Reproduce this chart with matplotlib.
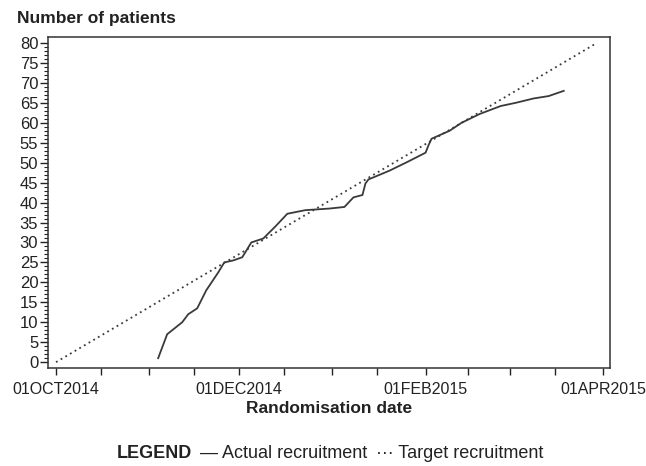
import datetime as dt
import matplotlib
matplotlib.use("Agg")
import matplotlib.pyplot as plt
import matplotlib.dates as mdates
from matplotlib.offsetbox import TextArea, HPacker, AnchoredOffsetbox

plt.rcParams['font.family'] = ['Liberation Sans', 'DejaVu Sans']

# actual recruitment
actual_dates = ["2014-11-04", "2014-11-05", "2014-11-07", "2014-11-12", "2014-11-14",
                "2014-11-17", "2014-11-20", "2014-11-24", "2014-11-26", "2014-11-29",
                "2014-12-02", "2014-12-05", "2014-12-09", "2014-12-13", "2014-12-17",
                "2014-12-23", "2014-12-31", "2015-01-05", "2015-01-08", "2015-01-11",
                "2015-01-12", "2015-01-13", "2015-01-20", "2015-01-26", "2015-02-01",
                "2015-02-02", "2015-02-03", "2015-02-09", "2015-02-13", "2015-02-19",
                "2015-02-26", "2015-03-03", "2015-03-09", "2015-03-14", "2015-03-19"]
actual_patients = [1, 3, 7, 10, 12,
                   13.5, 18, 22.5, 25, 25.5,
                   26.3, 30, 31, 34, 37.2,
                   38.1, 38.5, 38.9, 41.3, 41.9,
                   44.8, 45.8, 48, 50.2, 52.5,
                   54.4, 56, 58, 60, 62.2,
                   64.2, 65, 66.1, 66.7, 68]

# target recruitment
target_dates = ["2014-10-01", "2015-03-30"]
target_patients = [0, 80]

tick_dates = ["2014-10-01", "2014-10-16", "2014-11-01", "2014-11-16", "2014-12-01",
              "2014-12-16", "2015-01-01", "2015-01-16", "2015-02-01", "2015-02-15",
              "2015-03-01", "2015-03-16", "2015-04-01"]
tick_labels = ["01OCT2014", "", "", "", "01DEC2014", "", "", "", "01FEB2015",
               "", "", "", "01APR2015"]

to_dt = lambda lst: [dt.datetime.strptime(s, "%Y-%m-%d") for s in lst]

fig = plt.figure(figsize=(6.46, 4.66), dpi=100)
ax = fig.add_axes([0.0743, 0.210, 0.8697, 0.7106])

ax.plot(to_dt(actual_dates), actual_patients, color='#3a3a3a', lw=1.3)
ax.plot(to_dt(target_dates), target_patients, color='#3a3a3a', lw=1.3,
        linestyle=(0, (1, 2)))

ax.set_xlim(dt.datetime(2014, 9, 28, 8), dt.datetime(2015, 4, 3, 8))
ax.set_ylim(-1.5, 81.5)

ax.set_xticks(mdates.date2num(to_dt(tick_dates)))
ax.set_xticklabels(tick_labels)
ax.set_yticks(range(0, 81, 5))
ax.set_yticks(range(0, 81, 1), minor=True)

ax.tick_params(axis='x', direction='out', length=5, width=1, pad=5,
               labelsize=11.5, colors='#222222')
ax.tick_params(axis='y', which='major', direction='out', length=6, width=1,
               pad=1, labelsize=12, colors='#222222')
ax.tick_params(axis='y', which='minor', direction='out', length=3, width=0.8,
               colors='#222222')
for sp in ax.spines.values():
    sp.set_color('#333333')
    sp.set_linewidth(1.1)

ax.set_xlabel("Randomisation date", fontsize=12.5, fontweight='bold',
              color='#222222', labelpad=3)
fig.text(17 / 646, 1 - 18 / 466, "Number of patients", fontsize=12.5,
         fontweight='bold', color='#222222', va='center', ha='left')

# legend line at the bottom
leg_props = dict(fontsize=13, color='#222222')
legend_box = HPacker(children=[
    TextArea("LEGEND", textprops=dict(leg_props, fontweight='bold')),
    TextArea("\u2014 Actual recruitment", textprops=leg_props),
    TextArea("\u00b7\u00b7\u00b7 Target recruitment", textprops=leg_props)],
    align='baseline', pad=0, sep=6)
anchored = AnchoredOffsetbox(loc='center', child=legend_box, frameon=False,
                             bbox_to_anchor=(330 / 646, 1 - 454 / 466),
                             bbox_transform=fig.transFigure, borderpad=0)
fig.add_artist(anchored)

fig.savefig("out.png", dpi=100)
